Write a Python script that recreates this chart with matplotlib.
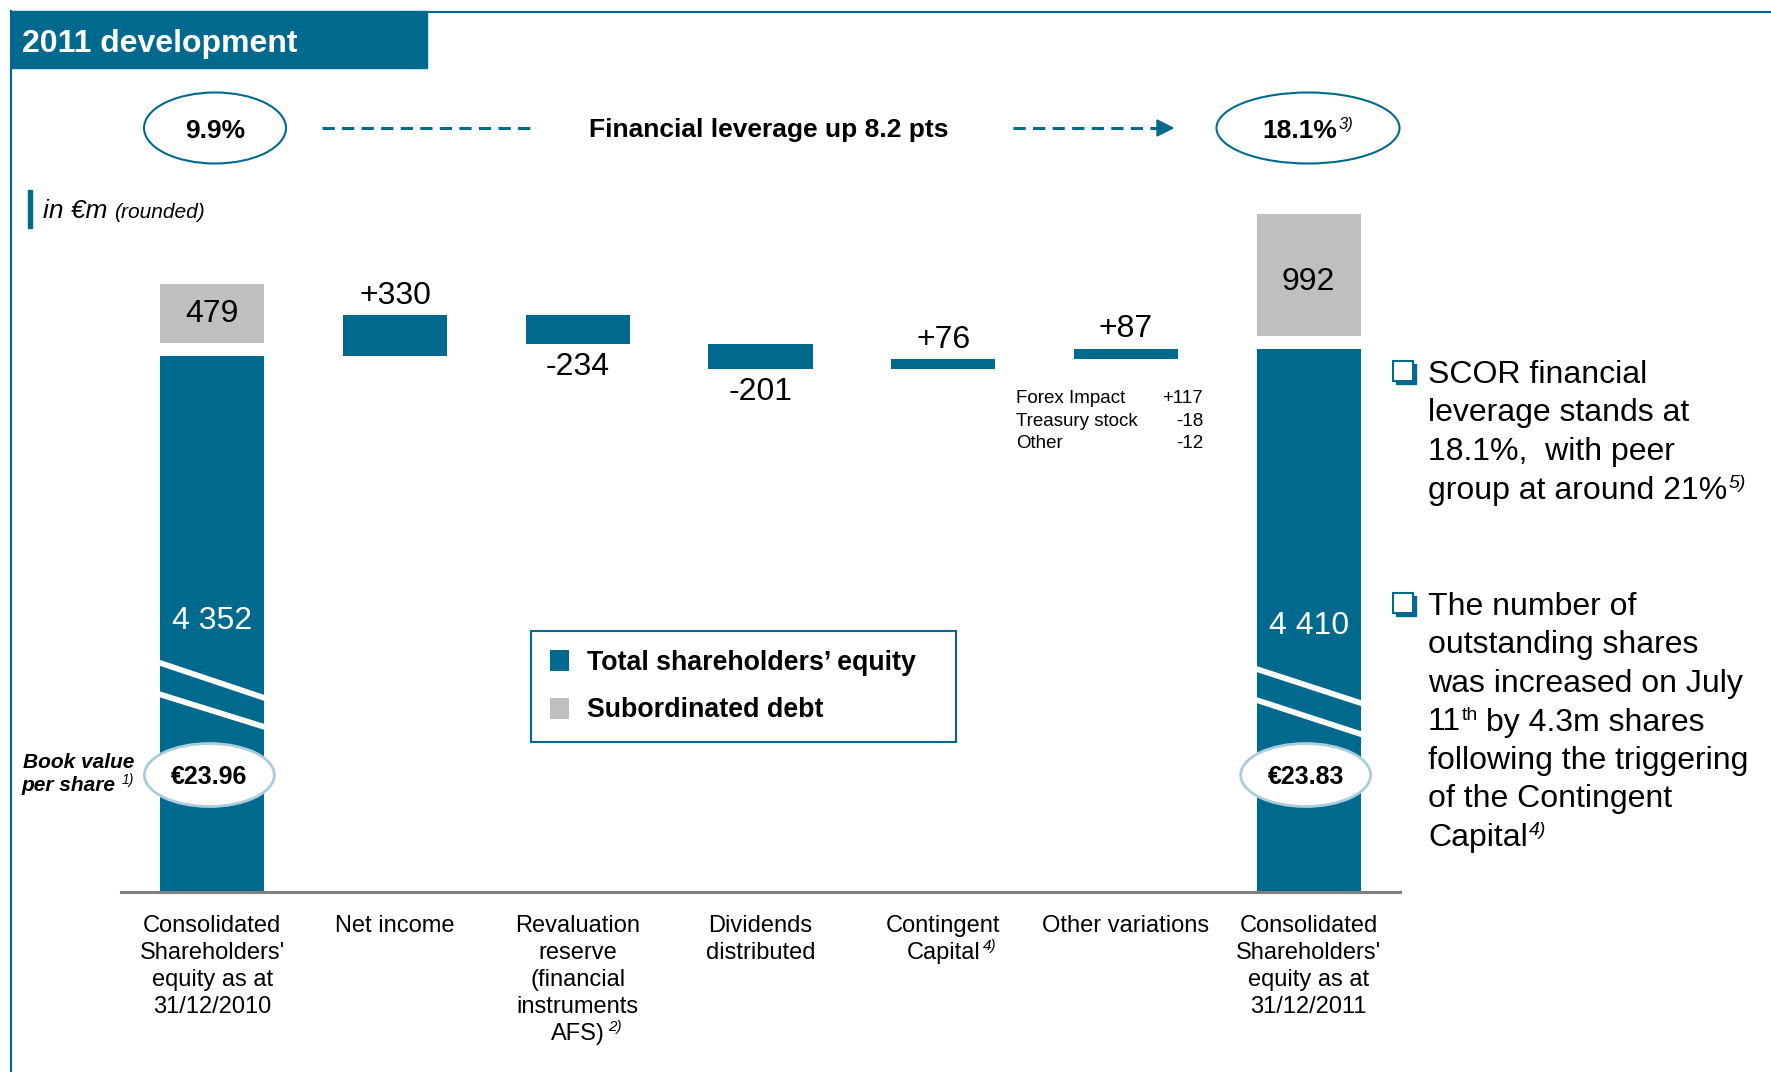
import matplotlib
matplotlib.use('Agg')
import matplotlib.pyplot as plt
from matplotlib.patches import Rectangle, Ellipse, Polygon, Patch
import numpy as np

plt.rcParams['font.family'] = ['Liberation Sans', 'DejaVu Sans']

# ---------------- data ----------------
categories = ["Consolidated\nShareholders'\nequity as at\n31/12/2010",
              "Net income",
              "Revaluation\nreserve\n(financial\ninstruments\nAFS)",
              "Dividends\ndistributed",
              "Contingent\nCapital",
              "Other variations",
              "Consolidated\nShareholders'\nequity as at\n31/12/2011"]
cat_notes = [None, None, "2)", None, "4)", None, None]
equity_open = 4352
equity_close = 4410
changes = [330, -234, -201, 76, 87]
sub_debt = [479, 992]
book_value = ["€23.96", "€23.83"]
leverage = ["9.9%", "18.1%"]
leverage_note = "3)"
other_items = ["Forex Impact", "Treasury stock", "Other"]
other_values = ["+117", "-18", "-12"]
legend_labels = ["Total shareholders’ equity", "Subordinated debt"]

# ---------------- style ----------------
W, H = 1771, 1072
BLUE = '#006A8E'
GRAY = '#BFBFBF'
LIGHT = '#A9CDDA'
PX = 0.1232          # pixels per EUR m
GAP = 105            # gap between equity and sub debt blocks (EUR m)
YMAX = 5780
NUM = 23             # font size of value labels
CAP_HALF = 0.716 * NUM * 100 / 72 / 2   # half cap height in px
CAT_SIZE = 17
CAT_LS = 1.29

fig = plt.figure(figsize=(W / 100, H / 100), dpi=100)
AX_L, AX_R, AX_B = 121, 1400, 892
ax = fig.add_axes([AX_L / W, 1 - AX_B / H, (AX_R - AX_L) / W, YMAX * PX / H])
ax.set_xlim(-0.5, 6.5)
ax.set_ylim(0, YMAX)
for s in ['top', 'right', 'left']:
    ax.spines[s].set_visible(False)
ax.spines['bottom'].set_color('#808080')
ax.spines['bottom'].set_linewidth(2.2)
ax.set_yticks([])
ax.patch.set_alpha(0)

# waterfall
levels = np.concatenate([[equity_open], equity_open + np.cumsum(changes)])
bw = 0.57
x_tot = [0, 6]
tot_vals = [equity_open, equity_close]
totals = ax.bar(x_tot, tot_vals, width=bw, color=BLUE, zorder=2)
bottoms = np.minimum(levels[:-1], levels[1:])
x_chg = np.arange(1, 6)
ax.bar(x_chg, np.abs(changes), bottom=bottoms, width=bw, color=BLUE, zorder=2)
debt_bottom = np.array(tot_vals) + GAP
ax.bar(x_tot, sub_debt, bottom=debt_bottom, width=bw, color=GRAY, zorder=2)

# labels (vertically centred on the digits' cap height)
label_frac = [0.511, 0.496]
debt_label_frac = [0.55, 0.465]
for x, v, fr in zip(x_tot, tot_vals, label_frac):
    ax.annotate(f"{v:,}".replace(",", " "), (x, v * fr), xytext=(0, -CAP_HALF),
                textcoords='offset pixels', color='white', size=NUM,
                ha='center', va='baseline', zorder=4)
for x, v, b, fr in zip(x_tot, sub_debt, debt_bottom, debt_label_frac):
    ax.annotate(str(v), (x, b + v * fr), xytext=(0, -CAP_HALF), textcoords='offset pixels',
                size=NUM, ha='center', va='baseline', zorder=4)
for x, c, lo, hi in zip(x_chg, changes, bottoms, bottoms + np.abs(changes)):
    if c > 0:
        ax.annotate(f"{c:+d}", (x, hi), xytext=(0, 23 - CAP_HALF), textcoords='offset pixels',
                    ha='center', va='baseline', size=NUM)
    else:
        ax.annotate(f"{c:+d}", (x, lo), xytext=(0, -20 - CAP_HALF), textcoords='offset pixels',
                    ha='center', va='baseline', size=NUM)

# break slashes (EUR m at left / right edge of each bar)
slash_y = [[(1859, 1575), (1603, 1340)],
           [(1810, 1534), (1558, 1282)]]
for bar, pairs in zip(totals, slash_y):
    x0 = bar.get_x()
    x1 = x0 + bar.get_width()
    for ya, yb in pairs:
        ext = 0.05
        slope = (yb - ya) / (x1 - x0)
        ln, = ax.plot([x0 - ext, x1 + ext], [ya - slope * ext, yb + slope * ext],
                      color='white', lw=4.1, solid_capstyle='butt', zorder=3)
        ln.set_clip_path(bar)

# x tick labels: for labels carrying a footnote, the last line is set separately
# (together with its superscript marker) just below the tick label
tick_labels = [c if n is None else "\n".join(c.split("\n")[:-1])
               for c, n in zip(categories, cat_notes)]
ax.set_xticks(range(len(categories)), tick_labels)
ax.tick_params(axis='x', length=0, pad=16.5, labelsize=CAT_SIZE)
for lab in ax.get_xticklabels():
    lab.set_linespacing(CAT_LS)

# legend
handles = [Patch(facecolor=BLUE, edgecolor='none'), Patch(facecolor=GRAY, edgecolor='none')]
leg = ax.legend(handles, legend_labels, loc='upper left',
                bbox_to_anchor=(531 / W, 1 - 738 / H, 425 / W, 107 / H),
                bbox_transform=fig.transFigure, mode='expand', borderaxespad=0,
                frameon=True, fancybox=False, edgecolor=BLUE, framealpha=1,
                prop=dict(weight='bold', size=19.3), handlelength=0.72,
                handleheight=0.83, handletextpad=0.68, borderpad=0.7, labelspacing=0.81)
leg.get_frame().set_linewidth(1.5)

# ---------------- overlay (pixel coords, y down) ----------------
ov = fig.add_axes([0, 0, 1, 1])
ov.set_xlim(0, W)
ov.set_ylim(H, 0)
ov.axis('off')

R = fig.canvas.get_renderer()


def tw(s, **kw):
    t = ov.text(0, 0, s, **kw)
    w = t.get_window_extent(R).width
    t.remove()
    return w


def runs(x, y, parts, ha='left', color='black'):
    ws = [tw(p[0], **p[1]) for p in parts]
    total = sum(ws) + sum(p[3] for p in parts)
    if ha == 'center':
        x -= total / 2
    elif ha == 'right':
        x -= total
    for (s, kw, rz, gap), w in zip(parts, ws):
        x += gap
        ov.text(x, y - rz, s, ha='left', va='baseline', color=color, **kw)
        x += w


def to_px(x, y):
    d = ax.transData.transform((x, y))
    return d[0], H - d[1]


# frame & header
ov.plot([11, W], [11.5, 11.5], color=BLUE, lw=1.5)
ov.plot([11, 11], [11, H], color=BLUE, lw=1.5)
ov.add_patch(Rectangle((11, 11), 416, 57, color=BLUE))
ov.text(22, 52, "2011 development", color='white', weight='bold', size=23, va='baseline')

# leverage row
ov.add_patch(Ellipse((215, 128), 142, 71, facecolor='white', edgecolor=BLUE, lw=1.5))
ov.add_patch(Ellipse((1308, 128), 183, 71, facecolor='white', edgecolor=BLUE, lw=1.5))
ov.text(215, 137.5, leverage[0], weight='bold', size=19, ha='center', va='baseline')
runs(1308, 137.5, [(leverage[1], dict(weight='bold', size=19), 0, 0),
                   (leverage_note, dict(style='italic', size=12), 9, 1)], ha='center')
ov.plot([322, 537], [128, 128], color=BLUE, lw=2.2, ls=(0, (4, 2.4)))
ov.plot([1013, 1158], [128, 128], color=BLUE, lw=2.2, ls=(0, (4, 2.4)))
ov.add_patch(Polygon([(1157, 120), (1157, 136), (1173, 128)], color=BLUE))
ov.text(769, 137.5, "Financial leverage up 8.2 pts", weight='bold', size=19,
        ha='center', va='baseline')

# unit note
ov.add_patch(Rectangle((28, 190), 4, 38, color=BLUE))
runs(43, 218, [("in €m", dict(style='italic', size=19), 0, 0),
               ("(rounded)", dict(style='italic', size=15), 0, 7)])

# book value per share
runs(134, 768, [("Book value", dict(style='italic', weight='bold', size=15), 0, 0)], ha='right')
runs(134, 791, [("per share", dict(style='italic', weight='bold', size=15), 0, 0),
                ("1)", dict(style='italic', size=10), 7, 6)], ha='right')
for i, txt in zip(x_tot, book_value):
    xc, _ = to_px(i, 0)
    ov.add_patch(Ellipse((xc - 3, 775), 130, 63, facecolor='white', edgecolor=LIGHT, lw=2))
    ov.text(xc - 3, 784, txt, weight='bold', size=18, ha='center', va='baseline')

# other variations breakdown
for k, (lab, val) in enumerate(zip(other_items, other_values)):
    yb = 403 + 22.5 * k
    ov.text(1016, yb, lab, size=13.5, va='baseline')
    ov.text(1203, yb, val, size=13.5, va='baseline', ha='right')

# right-hand commentary
for yb in [361, 593]:
    ov.add_patch(Rectangle((1396, yb + 3), 20, 20, color=BLUE))
    ov.add_patch(Rectangle((1393, yb), 20, 20, facecolor='white', edgecolor=BLUE, lw=1.5))
T = dict(size=23)
SUP = dict(size=14, style='italic')
para1 = [[("SCOR financial", T, 0, 0)],
         [("leverage stands at", T, 0, 0)],
         [("18.1%,  with peer", T, 0, 0)],
         [("group at around 21%", T, 0, 0), ("5)", SUP, 11, 1)]]
para2 = [[("The number of", T, 0, 0)],
         [("outstanding shares", T, 0, 0)],
         [("was increased on July", T, 0, 0)],
         [("11", T, 0, 0), ("th", dict(size=14), 11, 1), ("by 4.3m shares", T, 0, 8)],
         [("following the triggering", T, 0, 0)],
         [("of the Contingent", T, 0, 0)],
         [("Capital", T, 0, 0), ("4)", SUP, 11, 1)]]
for k, line in enumerate(para1):
    runs(1428, 383 + 38.5 * k, line)
for k, line in enumerate(para2):
    runs(1428, 615 + 38.5 * k, line)

# last line + footnote marker of the annotated category labels
fig.canvas.draw()
labels = ax.get_xticklabels()
for i, note in enumerate(cat_notes):
    if not note:
        continue
    lab = labels[i]
    bb = lab.get_window_extent(R)
    fp = lab.get_fontproperties()
    _, lp_h, lp_d = R.get_text_width_height_descent("lp", fp, ismath=False)
    base_px = H - (bb.y0 - (lp_h - lp_d) * CAT_LS)
    xc, _ = to_px(i, 0)
    last = categories[i].split("\n")[-1]
    w = tw(last, size=CAT_SIZE)
    ov.text(xc, base_px, last, size=CAT_SIZE, ha='center', va='baseline')
    ov.text(xc + w / 2 + 3, base_px - 9, note, size=11, style='italic', va='baseline')

fig.savefig('out.png', dpi=100)
